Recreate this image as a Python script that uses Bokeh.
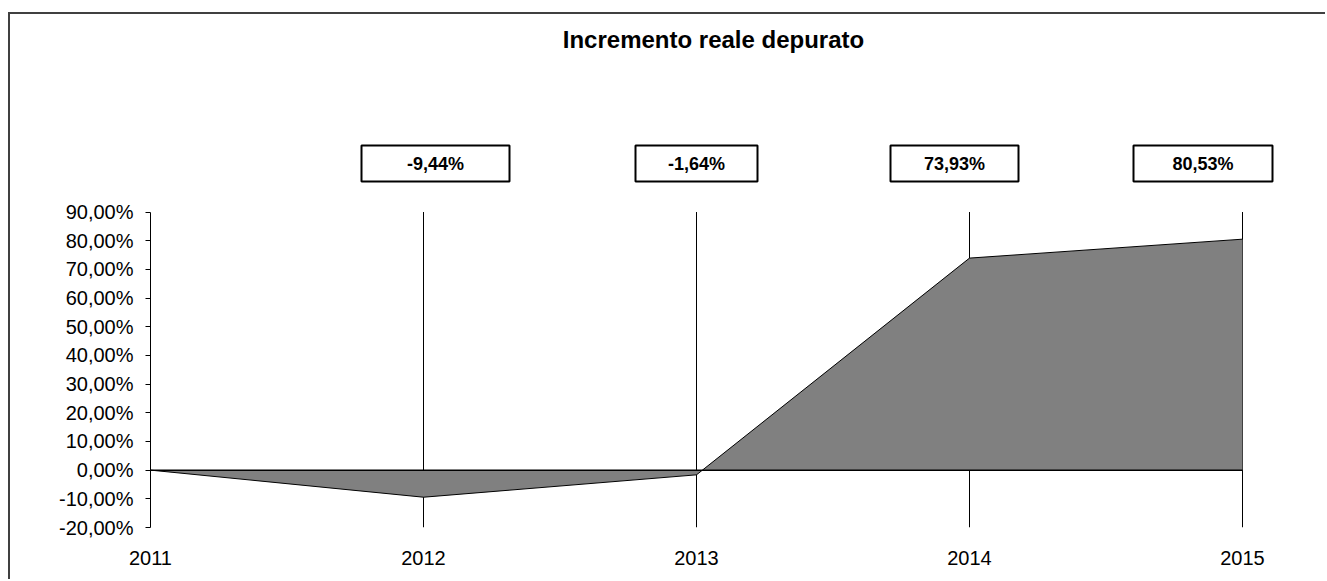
from bokeh.plotting import figure
from bokeh.models import Range1d, FixedTicker, Label, ColumnDataSource
from bokeh.embed import file_html
from bokeh.resources import INLINE
from bokeh.core.properties import value

# ---- data ----
years = [2011, 2012, 2013, 2014, 2015]
increments = [0.0, -9.44, -1.64, 73.93, 80.53]
label_years = [2012, 2013, 2014, 2015]
label_texts = ["-9,44%", "-1,64%", "73,93%", "80,53%"]
y_ticks = [-20, -10, 0, 10, 20, 30, 40, 50, 60, 70, 80, 90]
y_tick_labels = ["-20,00%", "-10,00%", "0,00%", "10,00%", "20,00%", "30,00%",
                 "40,00%", "50,00%", "60,00%", "70,00%", "80,00%", "90,00%"]
x_tick_labels = ["2011", "2012", "2013", "2014", "2015"]
title_text = "Incremento reale depurato"

# ---- layout constants (page pixels) ----
OFF_X, OFF_Y = 10, 14          # canvas origin on the page
W, H = 1317, 567
AXIS_X, FRAME_BOTTOM = 150, 527
ML = AXIS_X - OFF_X
MB = H - (FRAME_BOTTOM - OFF_Y)
PX_PER_YEAR = 273.0
PX_PER_PCT = 2.868
frame_w = W - ML
frame_h = H - MB
y_lo, y_hi = y_ticks[0], y_ticks[-1]
x0 = years[0]
x_end = x0 + frame_w / PX_PER_YEAR
y_top = y_lo + frame_h / PX_PER_PCT


def page_x(px):
    return x0 + (px - AXIS_X) / PX_PER_YEAR


def page_y(py):
    return y_lo + (FRAME_BOTTOM - py) / PX_PER_PCT


FONT = "Liberation Sans"

p = figure(width=W, height=H, output_backend="svg", toolbar_location=None,
           title=None, x_range=Range1d(x0, x_end), y_range=Range1d(y_lo, y_top),
           min_border_left=ML, min_border_right=0, min_border_top=0,
           min_border_bottom=MB)
p.styles = {"margin-left": "10px", "margin-top": "14px",
            "vertical-align": "top", "overflow": "hidden",
            "box-shadow": "-2px -2px 0px 0px #404040"}
p.outline_line_color = None
p.xgrid.visible = False
p.ygrid.visible = False
p.background_fill_color = "white"
p.border_fill_color = "white"

# y axis
ya = p.yaxis[0]
ya.ticker = FixedTicker(ticks=y_ticks)
ya.major_label_overrides = {t: l for t, l in zip(y_ticks, y_tick_labels)}
ya.bounds = (y_lo, y_hi)
ya.axis_line_color = "black"
ya.axis_line_width = 1
ya.major_tick_out = 5
ya.major_tick_in = 0
ya.major_tick_line_color = "black"
ya.minor_tick_line_color = None
ya.major_label_standoff = 12
ya.major_label_text_font = FONT
ya.major_label_text_font_size = "20px"
ya.major_label_text_color = "black"

# x axis
xa = p.xaxis[0]
xa.ticker = FixedTicker(ticks=years)
xa.major_label_overrides = {t: l for t, l in zip(years, x_tick_labels)}
xa.axis_line_color = None
xa.major_tick_line_color = None
xa.minor_tick_line_color = None
xa.major_tick_out = 0
xa.major_tick_in = 0
xa.major_label_standoff = 23
xa.major_label_text_font = FONT
xa.major_label_text_font_size = "20px"
xa.major_label_text_color = "black"

# vertical category gridlines
p.segment(x0=years[1:], y0=[y_lo] * 4, x1=years[1:], y1=[y_hi] * 4,
          line_color="#000000", line_width=1)

# area
p.varea(x=years, y1=[0] * len(years), y2=increments, fill_color="#808080")
p.line(years, increments, line_color="black", line_width=1)
p.line([years[0], years[-1]], [0, 0], line_color="black", line_width=1.5)

# data label boxes
box_cx_px = [435, 696, 954, 1202.5]
box_w_px = [148, 122, 128, 139]
cx = [page_x(v) for v in box_cx_px]
src = ColumnDataSource(dict(x=cx, y=[page_y(163)] * 4, w=box_w_px, t=label_texts))
p.rect(x="x", y="y", width="w", height=36, width_units="screen",
       height_units="screen", source=src, fill_color="white",
       line_color="black", line_width=2)
p.text(x="x", y="y", text="t", source=src, text_align="center",
       text_baseline="middle", text_font=value(FONT), text_font_style="bold",
       text_font_size="18px", text_color="black")

# title
p.add_layout(Label(x=page_x(713), y=page_y(39),
                   text=title_text, text_align="center",
                   text_baseline="alphabetic", text_font=FONT,
                   text_font_style="bold", text_font_size="24px",
                   text_color="black"))

open("out.html", "w").write(file_html(p, INLINE))
